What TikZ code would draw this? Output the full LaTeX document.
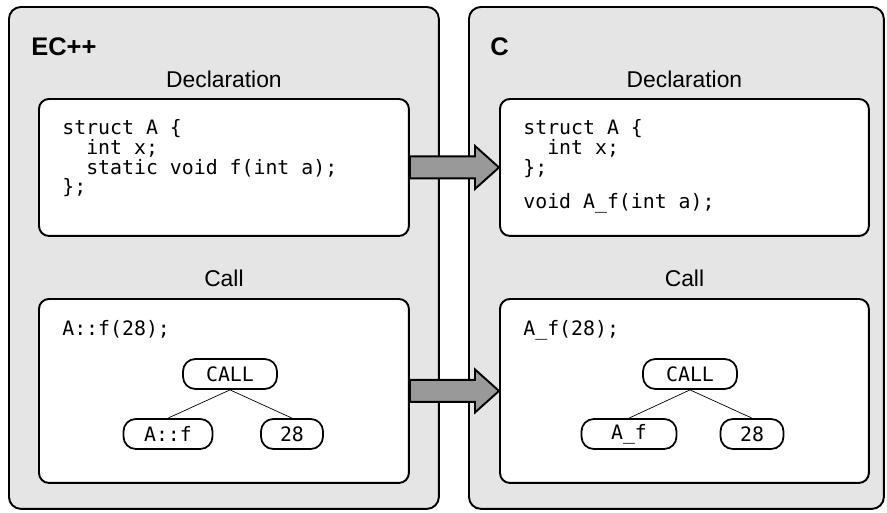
\documentclass[tikz,border=0pt]{standalone}
\usepackage{fontspec}
\setmainfont{Liberation Sans}
\newfontfamily\codefont{DejaVu Sans Mono}
\usetikzlibrary{positioning,calc}
\definecolor{panelgray}{HTML}{E5E5E5}
\definecolor{arrowgray}{HTML}{999999}
\tikzset{
  panel/.style={draw,line width=1.1pt,fill=panelgray,rounded corners=6.8pt,anchor=north west,minimum height=10.04cm},
  codebox/.style={draw,line width=1.1pt,fill=white,rounded corners=5.7pt,anchor=north west,minimum width=7.4cm},
  title/.style={font=\bfseries\fontsize{14.5}{16}\selectfont,inner sep=0pt,anchor=base west},
  sechead/.style={font=\fontsize{13}{15}\selectfont,inner sep=0pt},
  code/.style={font=\codefont\fontsize{11.3}{10}\selectfont,inner sep=0pt,align=left},
  ast/.style={draw,line width=1pt,rounded corners=7pt,minimum height=0.6cm,inner sep=0pt,font=\codefont\fontsize{11.3}{13}\selectfont},
  astedge/.style={line width=0.4pt},
  bigarrow/.style={draw,line width=1.1pt,fill=arrowgray,line join=miter}
}
% block arrow from the east side of #1 to the west side of #2
\newcommand{\shiftarrow}[2]{%
  \draw[bigarrow] ($(#1.east)+(0,0.22cm)$) -- ($(#2.west)+(-0.48cm,0.22cm)$) -- ++(0,0.21cm)
    -- (#2.west) -- ($(#2.west)+(-0.48cm,-0.43cm)$) -- ++(0,0.21cm)
    -- ($(#1.east)+(0,-0.22cm)$) -- cycle;}

\begin{document}
\begin{tikzpicture}[x=0.02cm,y=-0.02cm,node distance=0.2cm]
\useasboundingbox (0,0) rectangle (887,512);

% the two languages
\node[panel,minimum width=8.6cm] (ecpp) at (8,6) {};
\node[panel,minimum width=8.3cm] (clang) at (468,6) {};
\node[title] (ecpptitle) at (31,55) {EC++};
\node[title] (ctitle) at (490,55) {C};

% declaration boxes
\node[codebox,minimum height=2.74cm] (ldecl) at (38,98) {};
\node[codebox,minimum height=2.74cm,minimum width=7.38cm] (rdecl) at (499,98) {};
\node[sechead] (ldeclhead) [above=of ldecl] {Declaration};
\node[sechead] (rdeclhead) [above=of rdecl] {Declaration};
\node[code] (ldeclcode) [below right=0.42cm and 0.48cm of ldecl.north west]
  {struct A \{\\ \phantom{xx}int x;\\ \phantom{xx}static void f(int a);\\ \};};
\node[code] (rdeclcode) [below right=0.42cm and 0.48cm of rdecl.north west]
  {struct A \{\\ \phantom{xx}int x;\\ \};\\[8pt] void A\_f(int a);};

% call boxes
\node[codebox,minimum height=3.68cm] (lcall) at (38,298) {};
\node[codebox,minimum height=3.68cm,minimum width=7.38cm] (rcall) at (499,298) {};
\node[sechead] (lcallhead) [above=0.22cm of lcall] {Call};
\node[sechead] (rcallhead) [above=0.22cm of rcall] {Call};
\node[code] (lcallcode) [below right=0.44cm and 0.48cm of lcall.north west] {A::f(28);};
\node[code] (rcallcode) [below right=0.44cm and 0.48cm of rcall.north west] {A\_f(28);};

% syntax trees
\node[ast,minimum width=1.88cm] (lroot) at (230,374) {CALL};
\node[ast,minimum width=1.78cm] (lfun) at (168,434) {A::f};
\node[ast,minimum width=1.24cm] (larg) at (292,434) {28};
\draw[astedge] (lroot.south) -- (lfun.north);
\draw[astedge] (lroot.south) -- (larg.north);

\node[ast,minimum width=1.88cm] (rroot) at (690,374) {CALL};
\node[ast,minimum width=1.9cm] (rfun) at (629,434) {A\_f};
\node[ast,minimum width=1.26cm] (rarg) at (752,434) {28};
\draw[astedge] (rroot.south) -- (rfun.north);
\draw[astedge] (rroot.south) -- (rarg.north);

% translation arrows
\shiftarrow{ldecl}{rdecl}
\shiftarrow{lcall}{rcall}
\end{tikzpicture}
\end{document}
